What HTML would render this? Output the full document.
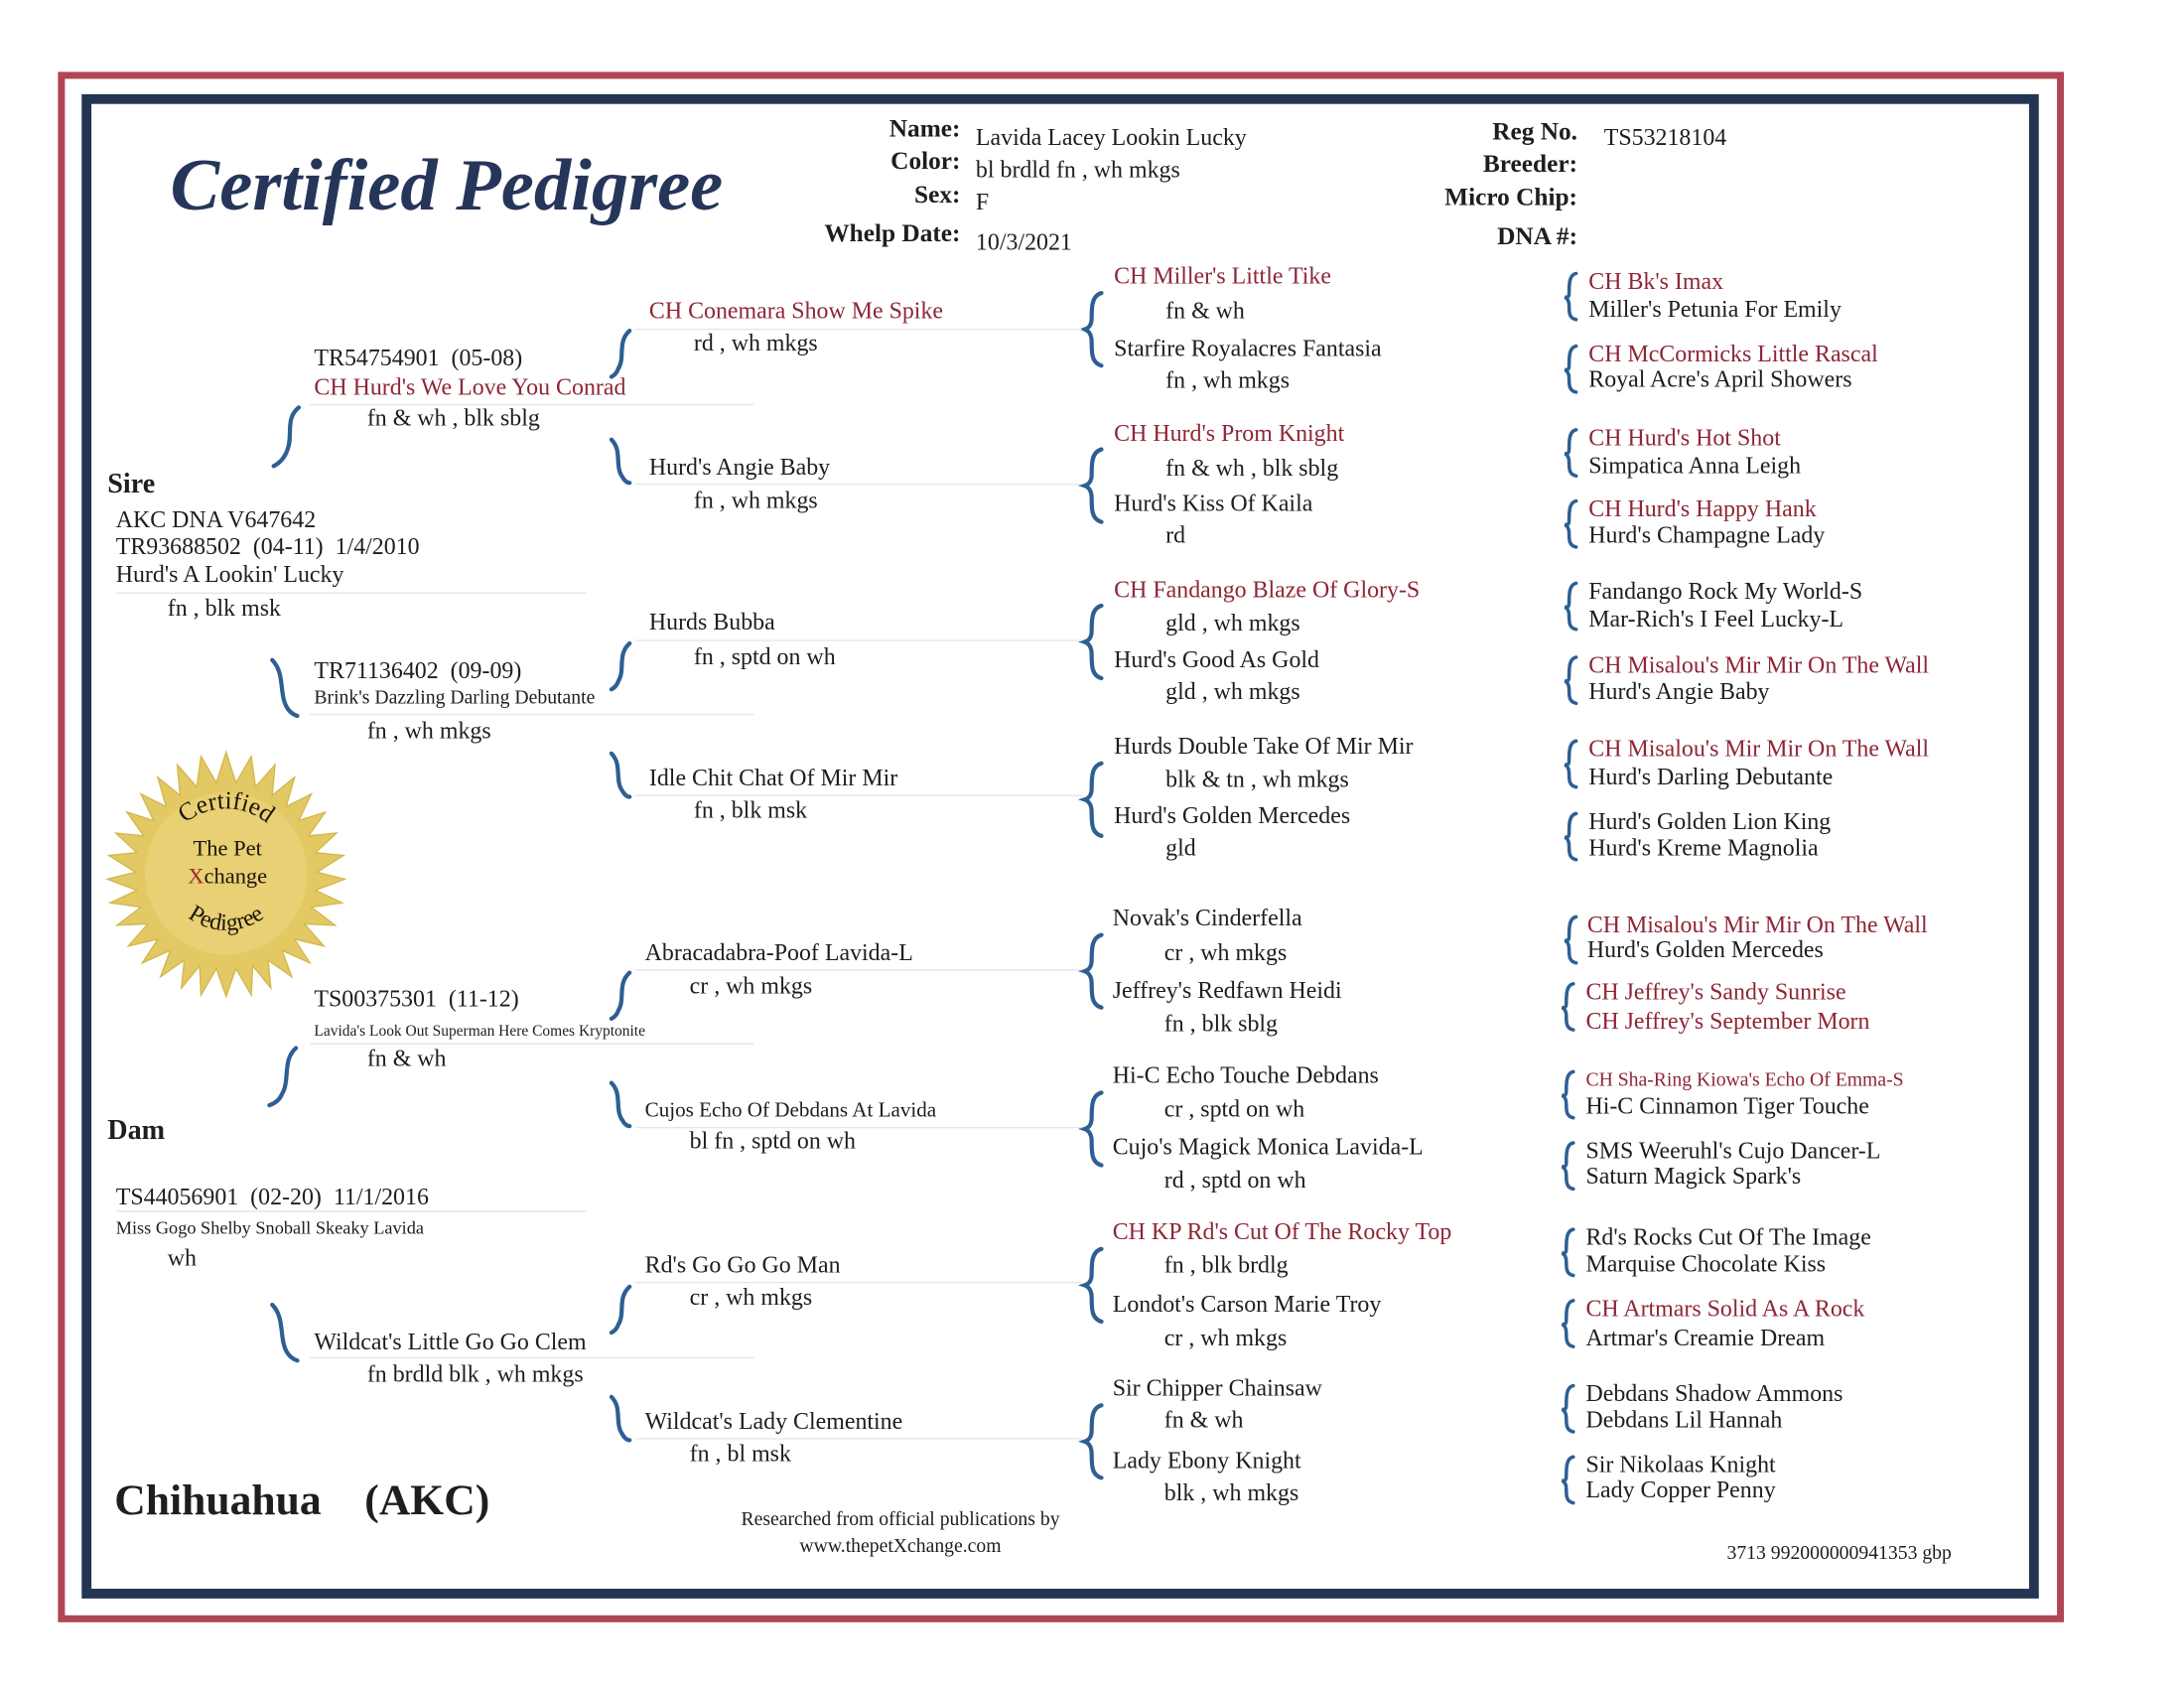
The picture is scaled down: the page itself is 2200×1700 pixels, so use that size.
<!DOCTYPE html>
<html><head><meta charset="utf-8">
<style>
html,body{margin:0;padding:0;background:#fff;}
body{width:2200px;height:1700px;overflow:hidden;position:relative;}
#w{position:absolute;left:0;top:0;width:1552px;height:1200px;transform:scale(1.4062,1.4054);transform-origin:0 0;font-family:"Liberation Serif",serif;color:#1e1e1e;}
#w div{position:absolute;white-space:nowrap;font-size:17px;line-height:20px;}
.r{color:#8e2636;}
.s{font-size:13px !important;}
.xs{font-size:11px !important;}
.b{font-weight:bold;}
.lab{font-weight:bold;font-size:18px !important;text-align:right;width:200px;}
</style></head><body>
<div id="w">
<svg width="1552" height="1200" style="position:absolute;left:0;top:0">
<rect x="44" y="54" width="1432" height="1106" fill="none" stroke="#b04653" stroke-width="5"/>
<rect x="62" y="71" width="1395" height="1071" fill="none" stroke="#243553" stroke-width="7"/>
<g fill="none" stroke="#2d5f93" stroke-width="3" stroke-linecap="round">
<path d="M214 292 C204 300 210 312 206 322 C204 328 200 332 196 334"/>
<path d="M195 473 C204 482 200 496 205 506 C207 510 210 512 213 513"/>
<path d="M212 751 C202 760 208 774 202 784 C200 789 196 791 193 792"/>
<path d="M195 935 C204 944 200 958 205 968 C207 972 210 974 213 975"/>
<path d="M451 237 C442 245 448 256 443 264 C442 267 440 269 438 270"/>
<path d="M438 315 C446 323 440 334 446 342 C447 344 449 346 451 346"/>
<path d="M451 461 C442 469 448 480 443 488 C442 491 440 493 438 494"/>
<path d="M438 540 C446 548 440 559 446 567 C447 569 449 571 451 571"/>
<path d="M451 697 C442 705 448 716 443 724 C442 727 440 729 438 730"/>
<path d="M438 776 C446 784 440 795 446 803 C447 805 449 807 451 807"/>
<path d="M451 922 C442 930 448 941 443 949 C442 952 440 954 438 955"/>
<path d="M438 1001 C446 1009 440 1020 446 1028 C447 1030 449 1032 451 1032"/>
</g>
<g fill="none" stroke="#2d5f93" stroke-width="3" stroke-linecap="round">
<path d="M789 210 C782 212 782 220 782 228 C782 233 780 235 777 236 C780 237 782 240 782 245 C782 253 782 260 789 262"/>
<path d="M789 322 C782 324 782 332 782 340 C782 345 780 347 777 348 C780 349 782 352 782 357 C782 365 782 372 789 374"/>
<path d="M789 434 C782 436 782 444 782 452 C782 457 780 459 777 460 C780 461 782 464 782 469 C782 477 782 484 789 486"/>
<path d="M789 547 C782 549 782 557 782 565 C782 570 780 572 777 573 C780 574 782 577 782 582 C782 590 782 597 789 599"/>
<path d="M789 670 C782 672 782 680 782 688 C782 693 780 695 777 696 C780 697 782 700 782 705 C782 713 782 720 789 722"/>
<path d="M789 783 C782 785 782 793 782 801 C782 806 780 808 777 809 C780 810 782 813 782 818 C782 826 782 833 789 835"/>
<path d="M789 895 C782 897 782 905 782 913 C782 918 780 920 777 921 C780 922 782 925 782 930 C782 938 782 945 789 947"/>
<path d="M789 1007 C782 1009 782 1017 782 1025 C782 1030 780 1032 777 1033 C780 1034 782 1037 782 1042 C782 1050 782 1057 789 1059"/>
</g>
<g fill="none" stroke="#2d5f93" stroke-width="2.5" stroke-linecap="round">
<path d="M1129 196 C1124 197 1124 204 1124 210 C1124 213 1123 213 1121 213 C1123 214 1124 216 1124 219 C1124 224 1124 228 1129 229"/>
<path d="M1129 248 C1124 249 1124 256 1124 262 C1124 265 1123 265 1121 265 C1123 266 1124 268 1124 271 C1124 276 1124 280 1129 281"/>
<path d="M1129 308 C1124 309 1124 316 1124 322 C1124 325 1123 325 1121 325 C1123 326 1124 328 1124 331 C1124 336 1124 340 1129 341"/>
<path d="M1129 359 C1124 360 1124 367 1124 373 C1124 376 1123 376 1121 376 C1123 377 1124 379 1124 382 C1124 387 1124 391 1129 392"/>
<path d="M1129 418 C1124 419 1124 426 1124 432 C1124 435 1123 435 1121 435 C1123 436 1124 438 1124 441 C1124 446 1124 450 1129 451"/>
<path d="M1129 471 C1124 472 1124 479 1124 485 C1124 488 1123 488 1121 488 C1123 489 1124 491 1124 494 C1124 499 1124 503 1129 504"/>
<path d="M1129 531 C1124 532 1124 539 1124 545 C1124 548 1123 548 1121 548 C1123 549 1124 551 1124 554 C1124 559 1124 563 1129 564"/>
<path d="M1129 583 C1124 584 1124 591 1124 597 C1124 600 1123 600 1121 600 C1123 601 1124 603 1124 606 C1124 611 1124 615 1129 616"/>
<path d="M1129 657 C1124 658 1124 665 1124 671 C1124 674 1123 674 1121 674 C1123 675 1124 677 1124 680 C1124 685 1124 689 1129 690"/>
<path d="M1127 705 C1122 706 1122 713 1122 719 C1122 722 1121 722 1119 722 C1121 723 1122 725 1122 728 C1122 733 1122 737 1127 738"/>
<path d="M1127 768 C1122 769 1122 776 1122 782 C1122 785 1121 785 1119 785 C1121 786 1122 788 1122 791 C1122 796 1122 800 1127 801"/>
<path d="M1127 819 C1122 820 1122 827 1122 833 C1122 836 1121 836 1119 836 C1121 837 1122 839 1122 842 C1122 847 1122 851 1127 852"/>
<path d="M1127 881 C1122 882 1122 889 1122 895 C1122 898 1121 898 1119 898 C1121 899 1122 901 1122 904 C1122 909 1122 913 1127 914"/>
<path d="M1127 932 C1122 933 1122 940 1122 946 C1122 949 1121 949 1119 949 C1121 950 1122 952 1122 955 C1122 960 1122 964 1127 965"/>
<path d="M1127 993 C1122 994 1122 1001 1122 1007 C1122 1010 1121 1010 1119 1010 C1121 1011 1122 1013 1122 1016 C1122 1021 1122 1025 1127 1026"/>
<path d="M1127 1044 C1122 1045 1122 1052 1122 1058 C1122 1061 1121 1061 1119 1061 C1121 1062 1122 1064 1122 1067 C1122 1072 1122 1076 1127 1077"/>
</g>
<g fill="none" stroke="#e6e6e6" stroke-width="1">
<line x1="83" y1="425" x2="420" y2="425"/><line x1="222" y1="290" x2="540" y2="290"/>
<line x1="222" y1="512" x2="540" y2="512"/><line x1="222" y1="748" x2="540" y2="748"/>
<line x1="222" y1="973" x2="540" y2="973"/><line x1="83" y1="868" x2="420" y2="868"/>
<line x1="455" y1="236" x2="775" y2="236"/><line x1="455" y1="347" x2="775" y2="347"/>
<line x1="455" y1="459" x2="775" y2="459"/><line x1="455" y1="570" x2="775" y2="570"/>
<line x1="455" y1="695" x2="775" y2="695"/><line x1="455" y1="808" x2="775" y2="808"/>
<line x1="455" y1="919" x2="775" y2="919"/><line x1="455" y1="1031" x2="775" y2="1031"/>
</g>
<polygon fill="#e3c963" stroke="#d4b84e" stroke-width="1" points="
162,539 169,561 180,542 183,564 197,548 195,570 211,557 205,578 223,569 214,588 233,582 221,599 241,597 226,611 246,613 227,625 247,630 226,638 245,647 223,650 240,663 218,662 232,678 211,673 222,690 202,681 209,700 192,688 194,708 181,692 180,713 169,694 162,714 155,694 144,713 143,692 130,708 132,688 115,700 122,681 102,690 113,673 92,678 106,662 84,663 101,650 79,647 98,638 77,630 97,625 78,613 98,611 83,597 103,599 91,582 110,588 101,569 119,578 113,557 129,570 127,548 141,564 144,542 155,561"/>
<circle cx="162" cy="626" r="58" fill="#ecd680" opacity="0.6"/>
<defs><path id="arcT" d="M118 612 A46 46 0 0 1 206 612"/><path id="arcB" d="M118 634 A46 46 0 0 0 206 634"/></defs>
<text font-family="Liberation Serif" font-size="18" fill="#1a160c"><textPath href="#arcT" startOffset="50%" text-anchor="middle">Certified</textPath></text>
<text font-family="Liberation Serif" font-size="17" fill="#1a160c"><textPath href="#arcB" startOffset="50%" text-anchor="middle">Pedigree</textPath></text>
<text x="163" y="613" font-family="Liberation Serif" font-size="16" fill="#1a160c" text-anchor="middle">The Pet</text>
<text x="163" y="633" font-family="Liberation Serif" font-size="16" fill="#1a160c" text-anchor="middle"><tspan fill="#a02a2a">X</tspan>change</text>
</svg>

<div style="left:122px;top:100px;font-size:53px !important;line-height:66px;font-style:italic;font-weight:bold;color:#26365a;">Certified Pedigree</div>

<div class="lab" style="left:488px;top:82px">Name:</div>
<div class="lab" style="left:488px;top:105px">Color:</div>
<div class="lab" style="left:488px;top:129px">Sex:</div>
<div class="lab" style="left:488px;top:157px">Whelp Date:</div>
<div style="left:699px;top:89px">Lavida Lacey Lookin Lucky</div>
<div style="left:699px;top:112px">bl brdld fn , wh mkgs</div>
<div style="left:699px;top:135px">F</div>
<div style="left:699px;top:164px">10/3/2021</div>
<div class="lab" style="left:930px;top:84px">Reg No.</div>
<div class="lab" style="left:930px;top:107px">Breeder:</div>
<div class="lab" style="left:930px;top:131px">Micro Chip:</div>
<div class="lab" style="left:930px;top:159px">DNA #:</div>
<div style="left:1149px;top:89px">TS53218104</div>

<div class="b" style="left:77px;top:335px;font-size:20px !important;line-height:24px">Sire</div>
<div style="left:83px;top:363px">AKC DNA V647642</div>
<div style="left:83px;top:382px">TR93688502&nbsp; (04-11)&nbsp; 1/4/2010</div>
<div style="left:83px;top:402px">Hurd's A Lookin' Lucky</div>
<div style="left:120px;top:426px">fn , blk msk</div>
<div class="b" style="left:77px;top:798px;font-size:20px !important;line-height:24px">Dam</div>
<div style="left:83px;top:848px">TS44056901&nbsp; (02-20)&nbsp; 11/1/2016</div>
<div class="s" style="left:83px;top:870px">Miss Gogo Shelby Snoball Skeaky Lavida</div>
<div style="left:120px;top:892px">wh</div>

<div style="left:225px;top:247px">TR54754901&nbsp; (05-08)</div>
<div class="r" style="left:225px;top:268px">CH Hurd's We Love You Conrad</div>
<div style="left:263px;top:290px">fn &amp; wh , blk sblg</div>
<div style="left:225px;top:471px">TR71136402&nbsp; (09-09)</div>
<div style="left:225px;top:491px;font-size:14px !important">Brink's Dazzling Darling Debutante</div>
<div style="left:263px;top:514px">fn , wh mkgs</div>
<div style="left:225px;top:706px">TS00375301&nbsp; (11-12)</div>
<div class="xs" style="left:225px;top:729px">Lavida's Look Out Superman Here Comes Kryptonite</div>
<div style="left:263px;top:749px">fn &amp; wh</div>
<div style="left:225px;top:952px">Wildcat's Little Go Go Clem</div>
<div style="left:263px;top:975px">fn brdld blk , wh mkgs</div>

<div class="r" style="left:465px;top:213px">CH Conemara Show Me Spike</div>
<div style="left:497px;top:236px">rd , wh mkgs</div>
<div style="left:465px;top:325px">Hurd's Angie Baby</div>
<div style="left:497px;top:349px">fn , wh mkgs</div>
<div style="left:465px;top:436px">Hurds Bubba</div>
<div style="left:497px;top:461px">fn , sptd on wh</div>
<div style="left:465px;top:548px">Idle Chit Chat Of Mir Mir</div>
<div style="left:497px;top:571px">fn , blk msk</div>
<div style="left:462px;top:673px">Abracadabra-Poof Lavida-L</div>
<div style="left:494px;top:697px">cr , wh mkgs</div>
<div style="left:462px;top:786px;font-size:15px !important">Cujos Echo Of Debdans At Lavida</div>
<div style="left:494px;top:808px">bl fn , sptd on wh</div>
<div style="left:462px;top:897px">Rd's Go Go Go Man</div>
<div style="left:494px;top:920px">cr , wh mkgs</div>
<div style="left:462px;top:1009px">Wildcat's Lady Clementine</div>
<div style="left:494px;top:1032px">fn , bl msk</div>

<div class="r" style="left:798px;top:188px">CH Miller's Little Tike</div>
<div style="left:835px;top:213px">fn &amp; wh</div>
<div style="left:798px;top:240px">Starfire Royalacres Fantasia</div>
<div style="left:835px;top:263px">fn , wh mkgs</div>
<div class="r" style="left:798px;top:301px">CH Hurd's Prom Knight</div>
<div style="left:835px;top:326px">fn &amp; wh , blk sblg</div>
<div style="left:798px;top:351px">Hurd's Kiss Of Kaila</div>
<div style="left:835px;top:374px">rd</div>
<div class="r" style="left:798px;top:413px">CH Fandango Blaze Of Glory-S</div>
<div style="left:835px;top:437px">gld , wh mkgs</div>
<div style="left:798px;top:463px">Hurd's Good As Gold</div>
<div style="left:835px;top:486px">gld , wh mkgs</div>
<div style="left:798px;top:525px">Hurds Double Take Of Mir Mir</div>
<div style="left:835px;top:549px">blk &amp; tn , wh mkgs</div>
<div style="left:798px;top:575px">Hurd's Golden Mercedes</div>
<div style="left:835px;top:598px">gld</div>
<div style="left:797px;top:648px">Novak's Cinderfella</div>
<div style="left:834px;top:673px">cr , wh mkgs</div>
<div style="left:797px;top:700px">Jeffrey's Redfawn Heidi</div>
<div style="left:834px;top:724px">fn , blk sblg</div>
<div style="left:797px;top:761px">Hi-C Echo Touche Debdans</div>
<div style="left:834px;top:785px">cr , sptd on wh</div>
<div style="left:797px;top:812px">Cujo's Magick Monica Lavida-L</div>
<div style="left:834px;top:836px">rd , sptd on wh</div>
<div class="r" style="left:797px;top:873px">CH KP Rd's Cut Of The Rocky Top</div>
<div style="left:834px;top:897px">fn , blk brdlg</div>
<div style="left:797px;top:925px">Londot's Carson Marie Troy</div>
<div style="left:834px;top:949px">cr , wh mkgs</div>
<div style="left:797px;top:985px">Sir Chipper Chainsaw</div>
<div style="left:834px;top:1008px">fn &amp; wh</div>
<div style="left:797px;top:1037px">Lady Ebony Knight</div>
<div style="left:834px;top:1060px">blk , wh mkgs</div>

<div class="r" style="left:1138px;top:192px">CH Bk's Imax</div>
<div style="left:1138px;top:212px">Miller's Petunia For Emily</div>
<div class="r" style="left:1138px;top:244px">CH McCormicks Little Rascal</div>
<div style="left:1138px;top:262px">Royal Acre's April Showers</div>
<div class="r" style="left:1138px;top:304px">CH Hurd's Hot Shot</div>
<div style="left:1138px;top:324px">Simpatica Anna Leigh</div>
<div class="r" style="left:1138px;top:355px">CH Hurd's Happy Hank</div>
<div style="left:1138px;top:374px">Hurd's Champagne Lady</div>
<div style="left:1138px;top:414px">Fandango Rock My World-S</div>
<div style="left:1138px;top:434px">Mar-Rich's I Feel Lucky-L</div>
<div class="r" style="left:1138px;top:467px">CH Misalou's Mir Mir On The Wall</div>
<div style="left:1138px;top:486px">Hurd's Angie Baby</div>
<div class="r" style="left:1138px;top:527px">CH Misalou's Mir Mir On The Wall</div>
<div style="left:1138px;top:547px">Hurd's Darling Debutante</div>
<div style="left:1138px;top:579px">Hurd's Golden Lion King</div>
<div style="left:1138px;top:598px">Hurd's Kreme Magnolia</div>
<div class="r" style="left:1137px;top:653px">CH Misalou's Mir Mir On The Wall</div>
<div style="left:1137px;top:671px">Hurd's Golden Mercedes</div>
<div class="r" style="left:1136px;top:701px">CH Jeffrey's Sandy Sunrise</div>
<div class="r" style="left:1136px;top:722px">CH Jeffrey's September Morn</div>
<div class="r" style="left:1136px;top:765px;font-size:14px !important">CH Sha-Ring Kiowa's Echo Of Emma-S</div>
<div style="left:1136px;top:783px">Hi-C Cinnamon Tiger Touche</div>
<div style="left:1136px;top:815px">SMS Weeruhl's Cujo Dancer-L</div>
<div style="left:1136px;top:833px">Saturn Magick Spark's</div>
<div style="left:1136px;top:877px">Rd's Rocks Cut Of The Image</div>
<div style="left:1136px;top:896px">Marquise Chocolate Kiss</div>
<div class="r" style="left:1136px;top:928px">CH Artmars Solid As A Rock</div>
<div style="left:1136px;top:949px">Artmar's Creamie Dream</div>
<div style="left:1136px;top:989px">Debdans Shadow Ammons</div>
<div style="left:1136px;top:1008px">Debdans Lil Hannah</div>
<div style="left:1136px;top:1040px">Sir Nikolaas Knight</div>
<div style="left:1136px;top:1058px">Lady Copper Penny</div>

<div class="b" style="left:82px;top:1055px;font-size:31px !important;line-height:40px">Chihuahua&nbsp;&nbsp;&nbsp; (AKC)</div>
<div style="left:495px;top:1080px;width:300px;text-align:center;font-size:14px !important">Researched from official publications by</div>
<div style="left:495px;top:1099px;width:300px;text-align:center;font-size:14px !important">www.thepetXchange.com</div>
<div style="left:1237px;top:1104px;font-size:14px !important">3713 992000000941353 gbp</div>
</div>
</body></html>
